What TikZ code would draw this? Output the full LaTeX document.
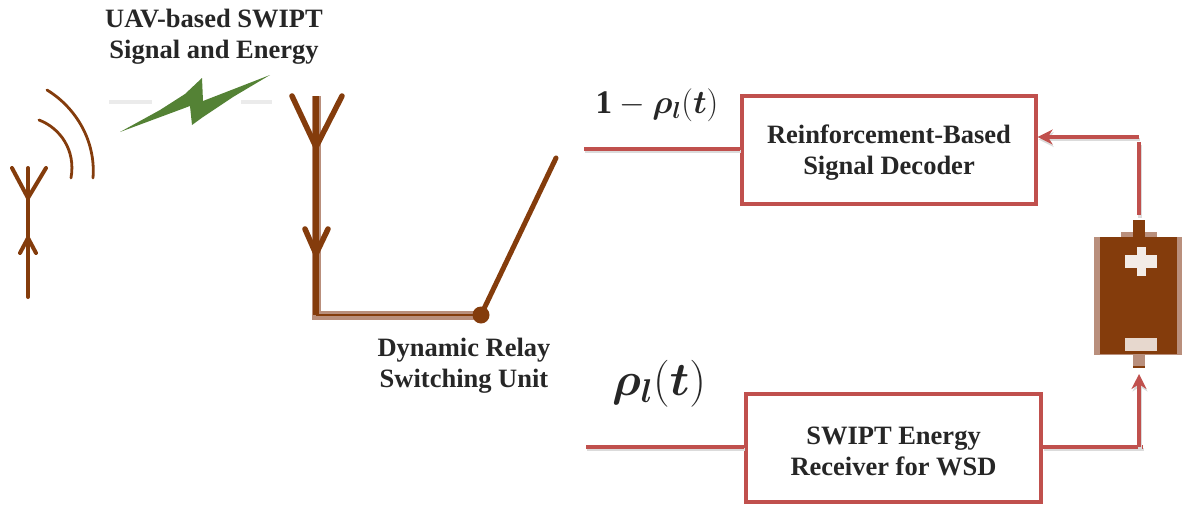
\documentclass[tikz,border=0pt]{standalone}
\usepackage{fontspec}
\usepackage{amsmath,bm}
\usepackage{fix-cm}
\setmainfont{Liberation Serif}
\definecolor{brn}{HTML}{843C0C}
\definecolor{brnl}{HTML}{B98F7C}
\definecolor{redl}{HTML}{C0504D}
\definecolor{grn}{HTML}{548235}
\usetikzlibrary{arrows.meta}
\newcommand{\lowerfirst}{\rule{0pt}{24pt}}
\tikzset{
 lbl/.style={font=\bfseries\fontsize{26.5}{31}\selectfont,align=center,text=black!85,inner sep=0pt},
 mathlbl/.style={inner sep=0pt,text=black!85},
 redbox/.style={draw=redl,line width=3.4pt,fill=white,inner sep=0pt,minimum width=#1,minimum height=108pt},
 redline/.style={draw=redl,line width=3.6pt,preaction={draw=black!14,line width=3.6pt,transform canvas={shift={(1pt,-2.5pt)}}}},
 redarrow/.style={redline,-{Stealth[length=15pt,width=15pt]}},
 brnline/.style={draw=brn,line width=#1,line cap=round,line join=round},
}
\begin{document}
\begin{tikzpicture}[x=1pt,y=-1pt]
\useasboundingbox (0,0) rectangle (1182,506);
% faint lines and bolt
\draw[draw=black!8,line width=4pt] (109,102) -- (152,102);
\draw[draw=black!8,line width=4pt] (241,102) -- (272,102);
\fill[grn] (120,132) -- (160,110) -- (185,94) -- (202,78) -- (203,101) -- (270,75) -- (233,97) -- (203,117) -- (192,125) -- (190,106) -- cycle;
% small antenna
\coordinate (a1top) at (28,168); \coordinate (a1fork) at (28,198); \coordinate (a1bot) at (28,297);
\coordinate (a1l) at (12,168); \coordinate (a1r) at (46,168);
\coordinate (a1tip) at (28,238);
\draw[brnline=4pt] (a1bot) -- (a1top);
\draw[brnline=4pt] (a1l) -- (a1fork) -- (a1r);
\draw[brnline=4pt] (20,253) -- (a1tip) -- (36,253);
\draw[brnline=2.8pt] (47,90) .. controls (75,107) and (96,140) .. (93,178);
\draw[brnline=2.8pt] (39,120) .. controls (60,128) and (76,150) .. (71,178);
% large antenna + switch
\coordinate (a2top) at (316,96); \coordinate (a2fork) at (316,147); \coordinate (a2l) at (292,96); \coordinate (a2r) at (342,96);
\coordinate (a2tip) at (316,254); \coordinate (corner) at (316,315); \coordinate (swend) at (556,158);
\coordinate (pivc) at (481,315);
\draw[draw=brnl,line width=9pt] (a2top) -- (corner) -- (pivc);
\draw[draw=brn,line width=6pt] (a2top) -- (corner);
\draw[draw=brn,line width=2.5pt] (corner) -- (pivc);
\draw[brnline=5.5pt] (a2l) -- (a2fork) -- (a2r);
\draw[brnline=5.5pt] (305,229) -- (a2tip) -- (328,229);
\draw[brnline=5pt] (pivc) -- (swend);
\node[circle,fill=brn,minimum size=17pt,inner sep=0pt] (pivot) at (pivc) {};
% boxes
\node[redbox=294pt,lbl] (dec) at (889,150) {\lowerfirst Reinforcement-Based\\Signal Decoder};
\node[redbox=295pt,lbl] (erx) at (893.5,448) {\lowerfirst SWIPT Energy\\Receiver for WSD};
% battery
\fill[brnl] (1094,237) rectangle (1182,355);
\fill[brnl] (1121,232) rectangle (1157,237);
\fill[brn] (1100,237) rectangle (1177,354);
\fill[brn] (1133,220) rectangle (1145,237);
\fill[brnl] (1133,355) rectangle (1145,367);
\fill[brn] (1133,366) rectangle (1145,368);
\fill[white!90!brn] (1125,255) rectangle (1157,268);
\fill[white!90!brn] (1137,247) rectangle (1146,276);
\fill[white!80!brn] (1125,338) rectangle (1157,351);
\coordinate (battp) at (1139,215);
\coordinate (battn) at (1139,374);
% connectors
\coordinate (in1) at (584,149);
\coordinate (in2) at (586,447);
\coordinate (c1) at (1139,137);
\coordinate (c2) at (1139,447);
\draw[redline] (in1) -- (dec.west |- in1);
\draw[redline] (in2) -- (erx.west |- in2);
\draw[redline] (erx.east |- c2) -- (1143,447);
\draw[redarrow] (c2) -- (battn);
\draw[redline] (battp) -- (1139,142);
\draw[redarrow] (c1) -- (dec.east |- c1);
% labels
\node[lbl] (t1) at (214,37) {UAV-based SWIPT\\Signal and Energy};
\node[lbl] (t2) at (464,365.5) {Dynamic Relay\\Switching Unit};
\node[mathlbl] (m1) at (657,105) {\fontsize{33}{38}\selectfont $\mathbf{1}-\bm{\rho}_{\bm{l}}(\bm{t})$};
\node[mathlbl] (m2) at (659,384) {\fontsize{47}{54}\selectfont $\bm{\rho}_{\bm{l}}(\bm{t})$};
\end{tikzpicture}
\end{document}
